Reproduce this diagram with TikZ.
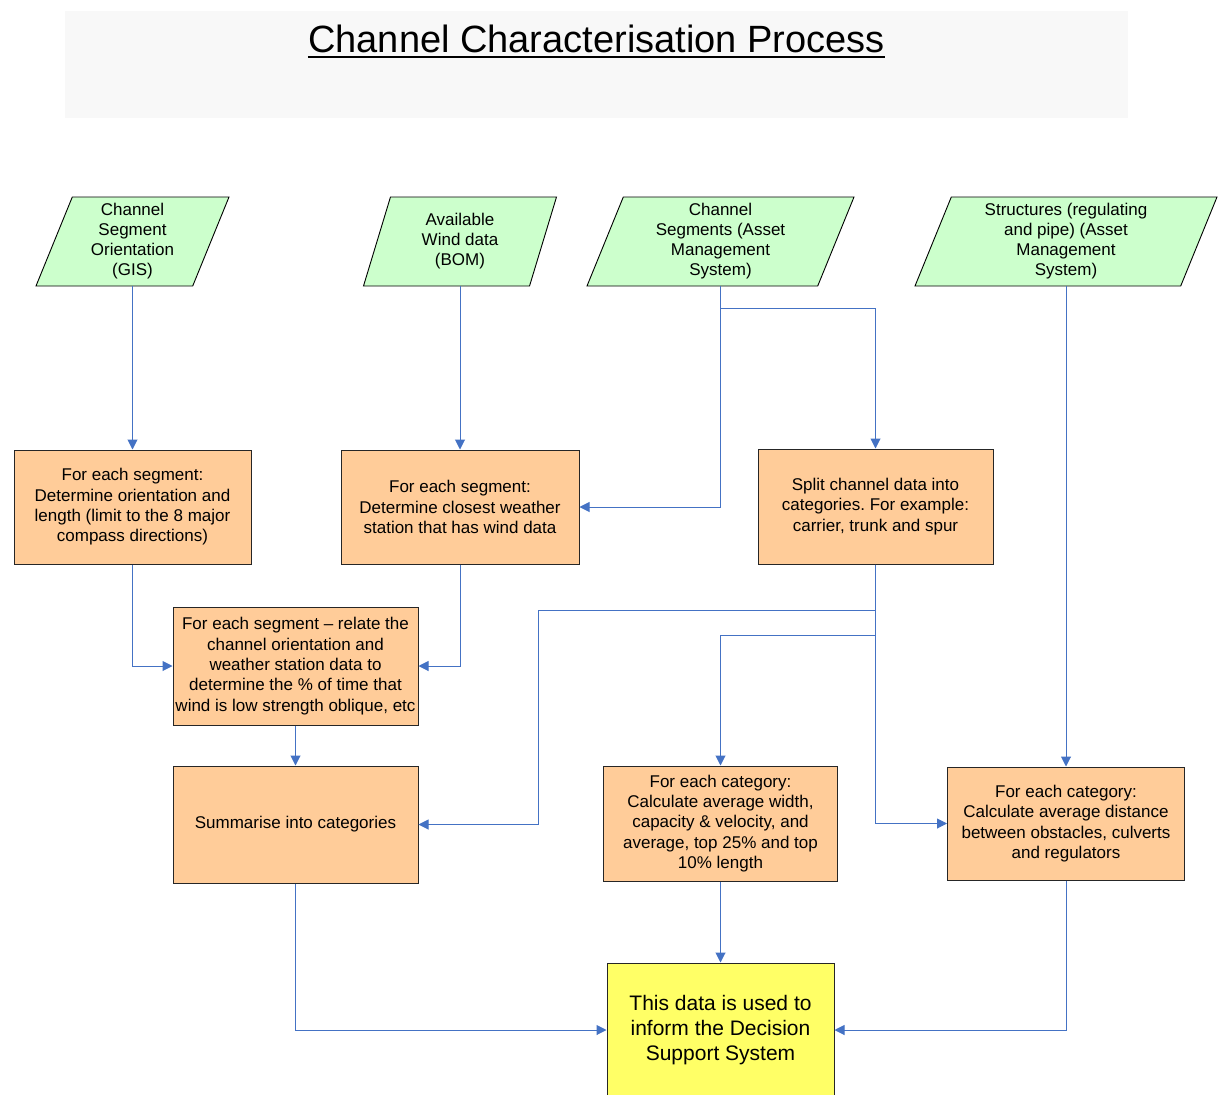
\documentclass[tikz,border=0pt]{standalone}
\usepackage{fontspec}
\setmainfont{Liberation Sans}
\frenchspacing
\usetikzlibrary{arrows.meta}
\usetikzlibrary{shapes.geometric}
\definecolor{myblue}{HTML}{4472C4}
\definecolor{mygreen}{HTML}{CCFFCC}
\definecolor{myorange}{HTML}{FFCC99}
\definecolor{myyellow}{HTML}{FFFF66}
\definecolor{mygrey}{HTML}{F8F8F8}
\tikzset{%
  myedge/.style={-{Triangle[length=10pt,width=10pt]}, draw=myblue, line width=1pt},
  myinput/.style={trapezium, trapezium left angle=65, trapezium right angle=115,
    trapezium stretches body, draw=black, line width=0.9pt, fill=mygreen,
    minimum height=89pt, align=center, inner sep=1pt,
    font=\fontsize{17}{20}\selectfont},
  mystep/.style={rectangle, draw=black!85, line width=1pt, fill=myorange,
    align=center, inner sep=2pt, font=\fontsize{17}{20.3}\selectfont},
  myfinal/.style={mystep, fill=myyellow, font=\fontsize{21}{25}\selectfont}
}

\begin{document}
\begin{tikzpicture}[x=1pt, y=-1pt]
  \useasboundingbox (0,0) rectangle (1219,1095);
  % title
  \fill[mygrey] (65,11) rectangle (1128,118);
  \node[anchor=base, inner sep=0pt, font=\fontsize{38}{44}\selectfont] (title) at (596.5,52) {Channel Characterisation Process};
  \draw[line width=2.5pt] ([yshift=-5pt]title.base west) -- ([yshift=-5pt]title.base east);

  % inputs
  \node[myinput, minimum width=193pt] (p1) at (132.5,241.5) {Channel\\Segment\\Orientation\\(GIS)};
  \node[myinput, minimum width=193pt] (p2) at (460,241.5) {Available\\Wind data\\(BOM)};
  \node[myinput, minimum width=267pt] (p3) at (720.5,241.5) {Channel\\Segments (Asset\\Management\\System)};
  \node[myinput, minimum width=302pt] (p4) at (1066,241.5) {Structures (regulating\\and pipe) (Asset\\Management\\System)};

  % steps
  \node[mystep, minimum width=237pt, minimum height=114pt] (r1) at (132.5,507) {For each segment:\\Determine orientation and\\length (limit to the 8 major\\compass directions)};
  \node[mystep, minimum width=238pt, minimum height=114pt] (r2) at (460,507) {For each segment:\\Determine closest weather\\station that has wind data};
  \node[mystep, minimum width=235pt, minimum height=115pt] (r3) at (875.5,506.5) {Split channel data into\\categories. For example:\\carrier, trunk and spur};
  \node[mystep, minimum width=245pt, minimum height=118pt] (r4) at (295.5,666) {For each segment -- relate the\\channel orientation and\\weather station data to\\determine the \% of time that\\wind is low strength oblique, etc};
  \node[mystep, minimum width=245pt, minimum height=117pt, below=40pt] (r5) at (r4.south) {Summarise into categories};
  \node[mystep, minimum width=234pt, minimum height=115pt] (r6) at (720.5,823.5) {For each category:\\Calculate average width,\\capacity \& velocity, and\\average, top 25\% and top\\10\% length};
  \node[mystep, minimum width=237pt, minimum height=113pt] (r7) at (1066,823.5) {For each category:\\Calculate average distance\\between obstacles, culverts\\and regulators};
  \node[myfinal, minimum width=227pt, minimum height=134pt] (r8) at (720.5,1030) {This data is used to\\inform the Decision\\Support System};

  % connectors
  \coordinate (c1) at (720.5,308);
  \coordinate (c2) at (538,610);
  \coordinate (c3) at (720.5,635);
  \draw[myedge] (p1) -- (r1);
  \draw[myedge] (p2) -- (r2);
  \draw[myedge] (p3) |- (r2);
  \draw[myedge] (c1) -| (r3);
  \draw[myedge] (p4) -- (r7);
  \draw[myedge] (r1) |- (r4);
  \draw[myedge] (r2) |- (r4);
  \draw[myedge] (r4) -- (r5);
  \draw[myedge] (r3.south) |- (c2) |- (r5);
  \draw[myedge] (r3.south) |- (c3) -- (r6);
  \draw[myedge] (r3) |- (r7);
  \draw[myedge] (r5) |- (r8);
  \draw[myedge] (r6) -- (r8);
  \draw[myedge] (r7) |- (r8);
\end{tikzpicture}
\end{document}
